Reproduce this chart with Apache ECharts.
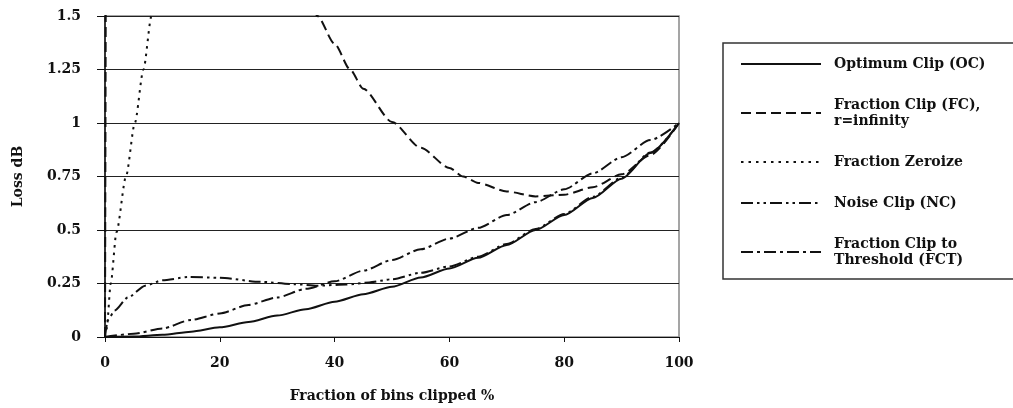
<!DOCTYPE html>
<html>
<head>
<meta charset="utf-8">
<script src="https://cdn.jsdelivr.net/npm/echarts@6/dist/echarts.min.js"></script>
<style>
  html, body { margin: 0; padding: 0; background: #fff; }
  #chart { width: 1013px; height: 408px; }
</style>
</head>
<body>
<div id="chart"></div>
<script>
// values: [fraction of bins clipped %, loss dB]
const ocData = [[0, 0], [5, 0.002], [10, 0.01], [15, 0.025], [20, 0.045], [25, 0.07], [30, 0.1],
  [35, 0.13], [40, 0.165], [45, 0.2], [50, 0.235], [55, 0.278], [60, 0.32], [65, 0.37],
  [70, 0.43], [75, 0.5], [80, 0.57], [85, 0.65], [90, 0.74], [95, 0.86], [100, 1]]
const fcData = [[0, 0], [0.15, 1.8], [20, '-'], [35.5, 1.6], [37, 1.5], [40, 1.37], [42.7, 1.25],
  [45, 1.16], [50, 1.005], [55, 0.884], [60, 0.79], [62.4, 0.75], [65, 0.72], [70, 0.68],
  [75, 0.657], [80, 0.665], [85, 0.7], [90, 0.76], [95, 0.85], [100, 1]]
const fzData = [[0, 0], [0.3, 0.04], [1, 0.25], [2, 0.49], [3.66, 0.75], [5.2, 1],
  [6.7, 1.25], [8.1, 1.5], [8.6, 1.58]]
const ncData = [[0, 0], [0.5, 0.08], [1.7, 0.124], [4, 0.185], [7, 0.24], [10, 0.265],
  [14.5, 0.28], [20, 0.277], [27, 0.258], [33, 0.247], [37, 0.24], [42, 0.245], [46, 0.255],
  [50, 0.27], [55, 0.3], [60, 0.33], [65, 0.375], [70, 0.435], [75, 0.505], [80, 0.575],
  [85, 0.655], [90, 0.745], [95, 0.862], [100, 1]]
const fctData = [[0, 0], [5, 0.015], [10, 0.04], [15, 0.08], [20, 0.11], [25, 0.15], [30, 0.185],
  [35, 0.225], [40, 0.26], [45, 0.31], [50, 0.36], [55, 0.41], [60, 0.46], [65, 0.51],
  [70, 0.57], [75, 0.63], [80, 0.69], [85, 0.765], [90, 0.84], [95, 0.92], [100, 1]]

const seriesNames = ['Optimum Clip (OC)', 'Fraction Clip (FC),\nr=infinity', 'Fraction Zeroize',
  'Noise Clip (NC)', 'Fraction Clip to\nThreshold (FCT)']
const xTicks = ['0', '20', '40', '60', '80', '100']
const yTicks = ['0', '0.25', '0.5', '0.75', '1', '1.25', '1.5']

const font = 'DejaVu Serif'
const ink = '#111'

function line(name, data, type) {
  return {
    name: name,
    type: 'line',
    data: data,
    showSymbol: false,
    symbol: 'none',
    smooth: 0.25,
    smoothMonotone: 'x',
    connectNulls: false,
    clip: true,
    lineStyle: { color: ink, width: 2, type: type },
    itemStyle: { color: ink }
  }
}

let myChart = echarts.init(document.getElementById('chart'))
myChart.setOption({
  animation: false,
  backgroundColor: '#fff',
  grid: {
    left: 105,
    right: 334,
    top: 16,
    bottom: 66,
    show: true,
    borderColor: '#888',
    borderWidth: 1.5
  },
  legend: {
    orient: 'vertical',
    left: 723,
    top: 43,
    padding: [13, 200, 11, 17],
    borderColor: '#333',
    borderWidth: 1.5,
    itemWidth: 80,
    itemHeight: 10,
    itemGap: 25,
    itemStyle: { opacity: 0 },
    data: seriesNames,
    textStyle: {
      fontFamily: font,
      fontWeight: 'bold',
      fontSize: 14,
      lineHeight: 16,
      color: ink,
      padding: [0, 0, 0, 8]
    }
  },
  xAxis: {
    type: 'value',
    min: 0,
    max: 100,
    interval: 20,
    name: 'Fraction of bins clipped %',
    nameLocation: 'middle',
    nameGap: 52,
    nameTextStyle: { fontFamily: font, fontWeight: 'bold', fontSize: 14, color: ink },
    axisLine: { show: true, lineStyle: { color: ink, width: 1 } },
    axisTick: { show: true, length: 5, lineStyle: { color: ink } },
    axisLabel: {
      margin: 19,
      fontFamily: font,
      fontWeight: 'bold',
      fontSize: 14,
      color: ink,
      formatter: (v) => xTicks[Math.round(v / 20)]
    },
    splitLine: { show: false }
  },
  yAxis: {
    type: 'value',
    min: 0,
    max: 1.5,
    interval: 0.25,
    name: 'Loss dB',
    nameLocation: 'middle',
    nameGap: 80,
    nameTextStyle: { fontFamily: font, fontWeight: 'bold', fontSize: 14, color: ink },
    axisLine: { show: true, lineStyle: { color: ink, width: 1.5 } },
    axisTick: { show: true, length: 8, lineStyle: { color: ink } },
    axisLabel: {
      margin: 24,
      fontFamily: font,
      fontWeight: 'bold',
      fontSize: 14,
      color: ink,
      formatter: (v) => yTicks[Math.round(v / 0.25)]
    },
    splitLine: { show: true, lineStyle: { color: '#222', width: 1 } }
  },
  series: [
    line(seriesNames[0], ocData, 'solid'),
    line(seriesNames[1], fcData, [10, 5]),
    line(seriesNames[2], fzData, [2.5, 5]),
    line(seriesNames[3], ncData, [12, 4, 2.5, 4, 2.5, 4]),
    line(seriesNames[4], fctData, [12, 4, 3, 4])
  ]
})
</script>
</body>
</html>
